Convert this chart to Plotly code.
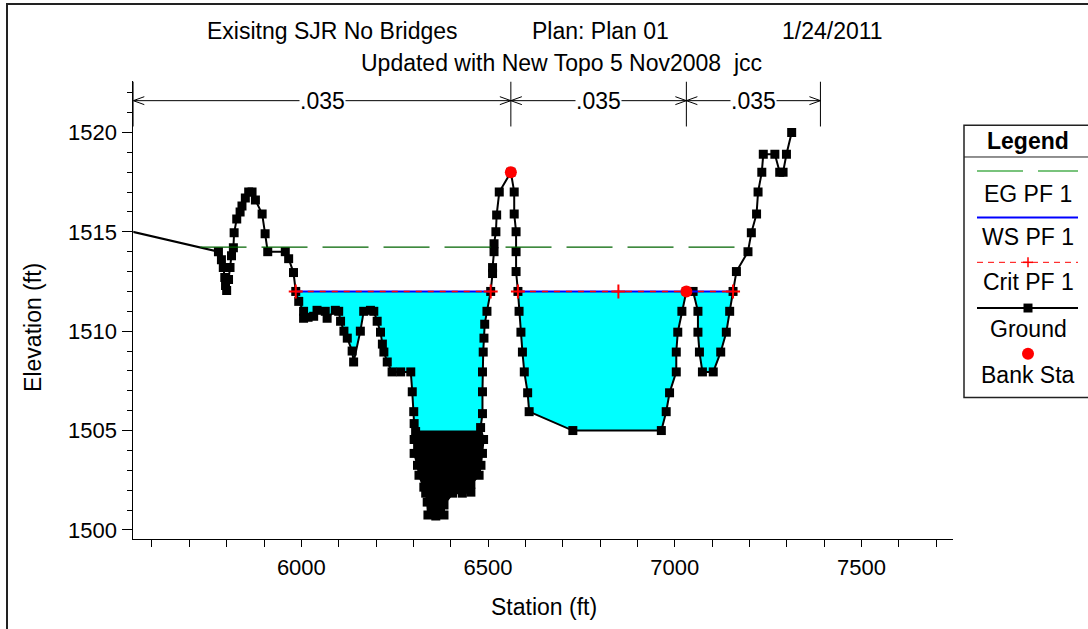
import plotly.graph_objects as go
import numpy as np

W, H = 1088, 629
FONT = "Liberation Sans, Arial, sans-serif"

# ---------------- data ----------------
ground_sta = [5480, 5778, 5786, 5791, 5795, 5797, 5800, 5805, 5809, 5813, 5818, 5820, 5827, 5836, 5841,
              5850, 5859, 5868, 5877, 5895, 5903, 5910, 5957, 5966, 5979, 5985, 5993, 6006, 6006, 6018,
              6033, 6042, 6064, 6069, 6091, 6100, 6105, 6114, 6123, 6136, 6140, 6158, 6167, 6185, 6194,
              6203, 6212, 6217, 6221, 6230, 6243, 6266, 6293, 6297, 6301, 6302, 6306, 6302, 6302, 6311,
              6315, 6328, 6333, 6337, 6339, 6360, 6382, 6382, 6405, 6431, 6454, 6454, 6476, 6481, 6485,
              6488, 6480, 6485, 6485, 6485, 6487, 6489, 6491, 6497, 6507, 6512, 6512, 6516, 6516, 6521,
              6523, 6530, 6561, 6570, 6570, 6575, 6575, 6575, 6580, 6583, 6588, 6592, 6597, 6606, 6610,
              6727, 6964, 6977, 6986, 7004, 7004, 7008, 7019, 7031, 7049, 7062, 7062, 7066, 7074, 7103,
              7123, 7138, 7147, 7156, 7165, 7196, 7205, 7219, 7223, 7233, 7237, 7268, 7281, 7290, 7299,
              7313]
ground_elev = [1515.3, 1514.0, 1513.6, 1513.2, 1512.7, 1512.3, 1512.05, 1512.6, 1513.2, 1513.8, 1514.2, 1514.95, 1515.65, 1516.0, 1516.3,
               1516.7, 1517.0, 1517.0, 1516.6, 1515.9, 1514.9, 1514.0, 1514.0, 1513.65, 1512.95, 1512.0, 1511.5, 1511.0, 1510.65, 1510.7,
               1510.75, 1511.05, 1511.0, 1510.65, 1511.05, 1511.0, 1510.5, 1510.0, 1509.65, 1509.0, 1508.45, 1510.0, 1511.0, 1511.05, 1511.0,
               1510.5, 1509.95, 1509.35, 1508.95, 1508.45, 1507.95, 1507.95, 1507.95, 1506.95, 1505.95, 1505.35, 1504.95, 1504.55, 1503.85, 1503.25,
               1502.75, 1502.15, 1501.85, 1501.4, 1500.75, 1500.7, 1500.75, 1501.25, 1501.85, 1501.85, 1501.9, 1502.3, 1502.75, 1503.25, 1503.85,
               1504.55, 1505.15, 1505.85, 1506.95, 1507.95, 1508.95, 1509.65, 1510.35, 1511.0, 1512.0, 1512.9, 1513.2, 1514.0, 1514.4, 1515.0,
               1515.85, 1517.0, 1518.0, 1517.0, 1515.9, 1515.0, 1514.0, 1513.0, 1512.0, 1511.0, 1509.95, 1508.95, 1507.95, 1506.9, 1505.95,
               1505.0, 1505.0, 1505.95, 1506.9, 1507.95, 1508.95, 1509.95, 1511.0, 1512.0, 1512.0, 1511.0, 1509.95, 1508.95, 1507.95, 1507.95,
               1508.95, 1509.95, 1511.0, 1512.0, 1513.0, 1514.0, 1514.95, 1515.9, 1517.0, 1518.0, 1518.9, 1518.9, 1518.0, 1518.0, 1518.9,
               1520.0]

bank_sta = [6561, 7031]
bank_elev = [1518.0, 1512.0]

ws_elev = 1512.0
ws_extents = [(5985, 6507), (6580, 7156)]
crit_elev = 1512.0
crit_marker_sta = [5985, 6507, 6580, 6849, 7156]
eg_elev = 1514.23
eg_extent = (5730, 7198)
dense_top_elev = 1505.0   # solid black bottom made of dense survey points

n_sta = [5550, 6561, 7031, 7390]
n_val = [0.035, 0.035, 0.035]

x_range = [5550, 7745]
y_range = [1499.565, 1522.565]

# ---------------- helpers ----------------
def px(x):
    return x / W

def py(y):
    return 1 - y / H

gs = np.array(ground_sta, dtype=float)
ge = np.array(ground_elev, dtype=float)

def below_poly(level):
    yy = np.minimum(ge, level)
    xs = list(gs) + list(gs[::-1])
    ys = list(yy) + [level] * len(gs)
    return xs, ys

fig = go.Figure()

# water fill
wx, wy = below_poly(ws_elev)
fig.add_trace(go.Scatter(x=wx, y=wy, fill="toself", fillcolor="#00FFFF", mode="lines",
                         line=dict(width=0), hoverinfo="skip"))
# dense black bottom
bx, by = below_poly(dense_top_elev)
fig.add_trace(go.Scatter(x=bx, y=by, fill="toself", fillcolor="black", mode="lines",
                         line=dict(width=0), hoverinfo="skip"))
# ground
fig.add_trace(go.Scatter(x=ground_sta, y=ground_elev, mode="lines+markers",
                         line=dict(color="black", width=2),
                         marker=dict(symbol="square", size=9, color="black"), name="Ground"))
# WS
wsx, wsy = [], []
for a, b in ws_extents:
    wsx += [a, b, None]
    wsy += [ws_elev, ws_elev, None]
fig.add_trace(go.Scatter(x=wsx, y=wsy, mode="lines", line=dict(color="#0000FF", width=2), name="WS PF 1"))
# Crit
fig.add_trace(go.Scatter(x=wsx, y=[crit_elev if v is not None else None for v in wsy], mode="lines",
                         line=dict(color="#FF0000", width=1.5, dash="6px,6px"), name="Crit PF 1"))
fig.add_trace(go.Scatter(x=crit_marker_sta, y=[crit_elev] * len(crit_marker_sta), mode="markers",
                         marker=dict(symbol="cross-thin", size=10, line=dict(color="#FF0000", width=2))))
# EG
fig.add_trace(go.Scatter(x=list(eg_extent), y=[eg_elev, eg_elev], mode="lines",
                         line=dict(color="#006400", width=1.2, dash="46px,15px"), name="EG PF 1"))
# Bank stations
fig.add_trace(go.Scatter(x=bank_sta, y=bank_elev, mode="markers",
                         marker=dict(symbol="circle", size=12, color="#FF0000"), name="Bank Sta"))

shapes = []
annotations = []

# n-value arrows
arrow_y = 1521.6
div_bot = 1520.3
dx = 11 / ((953 - 133.3) / (x_range[1] - x_range[0]))
dy = 4 / (460 / (y_range[1] - y_range[0]))
shapes.append(dict(type="line", xref="x", yref="y", x0=n_sta[0], x1=n_sta[-1], y0=arrow_y, y1=arrow_y,
                   line=dict(color="black", width=1)))
for s in n_sta:
    shapes.append(dict(type="line", xref="x", yref="y", x0=s, x1=s, y0=div_bot, y1=y_range[1],
                       line=dict(color="black", width=1)))
for i, v in enumerate(n_val):
    a, b = n_sta[i], n_sta[i + 1]
    shapes.append(dict(type="path", xref="x", yref="y",
                       path=f"M {a+dx},{arrow_y+dy} L {a},{arrow_y} L {a+dx},{arrow_y-dy}",
                       line=dict(color="black", width=1)))
    shapes.append(dict(type="path", xref="x", yref="y",
                       path=f"M {b-dx},{arrow_y+dy} L {b},{arrow_y} L {b-dx},{arrow_y-dy}",
                       line=dict(color="black", width=1)))
    annotations.append(dict(x=(a + b) / 2, y=arrow_y, xref="x", yref="y", text=f"{v:.3f}".lstrip("0"),
                            showarrow=False, bgcolor="white", font=dict(size=23, color="black"),
                            xanchor="center", yanchor="middle", borderpad=0))

# outer frame
shapes.append(dict(type="rect", xref="paper", yref="paper", x0=px(7), x1=px(W + 5), y0=py(H + 5), y1=py(4),
                   line=dict(color="#222", width=2)))

# titles
annotations += [
    dict(x=px(205), y=py(31), xref="paper", yref="paper", text="Exisitng SJR No Bridges", showarrow=False,
         xanchor="left", yanchor="middle", font=dict(size=23)),
    dict(x=px(600), y=py(31), xref="paper", yref="paper", text="Plan: Plan 01", showarrow=False,
         xanchor="center", yanchor="middle", font=dict(size=23)),
    dict(x=px(832), y=py(31), xref="paper", yref="paper", text="1/24/2011", showarrow=False,
         xanchor="center", yanchor="middle", font=dict(size=23)),
    dict(x=px(561), y=py(63), xref="paper", yref="paper", text="Updated with New Topo 5 Nov2008\u00a0\u00a0jcc",
         showarrow=False, xanchor="center", yanchor="middle", font=dict(size=23)),
    dict(x=px(33), y=py(330), xref="paper", yref="paper", text="Elevation (ft)", textangle=-90, showarrow=False,
         xanchor="center", yanchor="middle", font=dict(size=23)),
    dict(x=px(544), y=py(611), xref="paper", yref="paper", text="Station (ft)", showarrow=False,
         xanchor="center", yanchor="middle", font=dict(size=23)),
]

# legend box
LX0, LY0, LY1 = 964, 126, 400
LC = 1028
shapes.append(dict(type="rect", xref="paper", yref="paper", x0=px(LX0), x1=px(W + 5), y0=py(LY1), y1=py(LY0),
                   line=dict(color="#222", width=1.5), fillcolor="white", layer="above"))
shapes.append(dict(type="line", xref="paper", yref="paper", x0=px(LX0), x1=px(W + 5), y0=py(158), y1=py(158),
                   line=dict(color="#222", width=1)))
annotations.append(dict(x=px(LC), y=py(142), xref="paper", yref="paper", text="<b>Legend</b>", showarrow=False,
                        xanchor="center", yanchor="middle", font=dict(size=23)))
# EG sample
shapes.append(dict(type="line", xref="paper", yref="paper", x0=px(977), x1=px(1023), y0=py(172), y1=py(172),
                   line=dict(color="#4CAF50", width=1.5)))
shapes.append(dict(type="line", xref="paper", yref="paper", x0=px(1038), x1=px(1078), y0=py(172), y1=py(172),
                   line=dict(color="#4CAF50", width=1.5)))
# WS sample
shapes.append(dict(type="line", xref="paper", yref="paper", x0=px(977), x1=px(1078), y0=py(219), y1=py(219),
                   line=dict(color="#0000FF", width=2)))
# Crit sample
shapes.append(dict(type="line", xref="paper", yref="paper", x0=px(977), x1=px(1078), y0=py(264), y1=py(264),
                   line=dict(color="#FF0000", width=1, dash="6px,5px")))
shapes.append(dict(type="line", xref="paper", yref="paper", x0=px(LC - 5), x1=px(LC + 5), y0=py(264), y1=py(264),
                   line=dict(color="#FF0000", width=1.5)))
shapes.append(dict(type="line", xref="paper", yref="paper", x0=px(LC), x1=px(LC), y0=py(259), y1=py(269),
                   line=dict(color="#FF0000", width=1.5)))
# Ground sample
shapes.append(dict(type="line", xref="paper", yref="paper", x0=px(977), x1=px(1078), y0=py(310), y1=py(310),
                   line=dict(color="black", width=2)))
shapes.append(dict(type="rect", xref="paper", yref="paper", x0=px(LC - 4.5), x1=px(LC + 4.5), y0=py(314.5), y1=py(305.5),
                   line=dict(width=0), fillcolor="black"))
# Bank sample
shapes.append(dict(type="circle", xref="paper", yref="paper", x0=px(LC - 6), x1=px(LC + 6), y0=py(362), y1=py(350),
                   line=dict(width=0), fillcolor="#FF0000"))
for txt, yy in [("EG PF 1", 195), ("WS PF 1", 239), ("Crit PF 1", 284), ("Ground", 331), ("Bank Sta", 377)]:
    annotations.append(dict(x=px(LC), y=py(yy), xref="paper", yref="paper", text=txt, showarrow=False,
                            xanchor="center", yanchor="middle", font=dict(size=23)))

fig.update_layout(
    width=W, height=H, margin=dict(l=0, r=0, t=0, b=0),
    paper_bgcolor="white", plot_bgcolor="white", showlegend=False,
    font=dict(family=FONT, color="black"),
    shapes=shapes, annotations=annotations,
    xaxis=dict(domain=[px(133.3), px(953)], range=x_range, showline=True, linecolor="black", linewidth=1,
               ticks="outside", ticklen=7, tickcolor="black", tick0=0, dtick=500, showgrid=False, zeroline=False,
               tickfont=dict(size=22), ticklabelstandoff=2,
               minor=dict(ticks="outside", ticklen=7, tickcolor="black", dtick=100, showgrid=False)),
    yaxis=dict(domain=[py(542), py(82)], range=y_range, showline=True, linecolor="black", linewidth=1,
               ticks="outside", ticklen=10, tickcolor="black", tick0=0, dtick=5, showgrid=False, zeroline=False,
               tickfont=dict(size=22), ticklabelstandoff=1,
               minor=dict(ticks="outside", ticklen=5, tickcolor="black", dtick=1, showgrid=False)),
)

fig.write_html("out.html")
